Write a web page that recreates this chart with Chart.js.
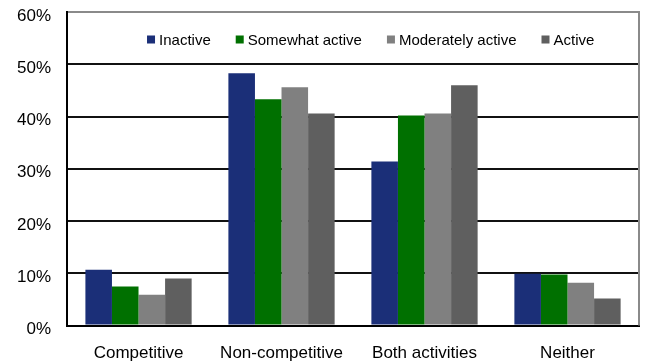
<!DOCTYPE html>
<html>
<head>
<meta charset="utf-8">
<script src="https://cdn.jsdelivr.net/npm/chart.js@4/dist/chart.umd.min.js"></script>
<style>
  html, body { margin: 0; padding: 0; background: #fff; }
  #wrap { width: 645px; height: 364px; }
</style>
</head>
<body>
<div id="wrap"><canvas id="c" width="645" height="364"></canvas></div>
<script>
// Share of respondents (%) by type of activity and physical activity level
const categories = ['Competitive', 'Non-competitive', 'Both activities', 'Neither'];
const inactive = [10.7, 48.3, 31.4, 9.9];
const somewhatActive = [7.5, 43.3, 40.2, 9.8];
const moderatelyActive = [5.9, 45.6, 40.6, 8.2];
const active = [9.0, 40.6, 46.0, 5.2];
const seriesNames = ['Inactive', 'Somewhat active', 'Moderately active', 'Active'];
const seriesColors = ['#1b2f78', '#007000', '#808080', '#5f5f5f'];
const yTicks = [0, 10, 20, 30, 40, 50, 60];

const FONT = "'Liberation Sans', Arial, sans-serif";

// Legend drawn inside the plot area, in one row
const innerLegend = {
  id: 'innerLegend',
  afterDraw(chart) {
    const ctx = chart.ctx;
    ctx.save();
    ctx.font = '15px ' + FONT;
    ctx.textBaseline = 'middle';
    let x = chart.chartArea.left + 80;
    const y = chart.chartArea.top + 28.5;
    chart.data.datasets.forEach(ds => {
      ctx.fillStyle = ds.backgroundColor;
      ctx.fillRect(x, y - 5, 8, 8);
      x += 12;
      ctx.fillStyle = '#000';
      ctx.fillText(ds.label, x, y);
      x += ctx.measureText(ds.label).width + 25;
    });
    ctx.restore();
  }
};

// Gray frame on the right edge of the plot area
const rightFrame = {
  id: 'rightFrame',
  afterDatasetsDraw(chart) {
    const { ctx, chartArea } = chart;
    ctx.save();
    ctx.strokeStyle = '#8a8a8a';
    ctx.lineWidth = 2;
    ctx.beginPath();
    ctx.moveTo(chartArea.right, chartArea.top - 1);
    ctx.lineTo(chartArea.right, chartArea.bottom);
    ctx.stroke();
    ctx.restore();
  }
};

// Tick padding is only the gap between axis and labels, not extra room outside
function trimPadding(scale) {
  const pad = scale.options.ticks.padding;
  if (scale.isHorizontal()) {
    scale.height -= pad;
  } else {
    scale.width -= pad;
  }
  scale.paddingTop = 0;
  scale.paddingBottom = 0;
  scale.paddingLeft = 0;
  scale.paddingRight = 0;
}

const values = [inactive, somewhatActive, moderatelyActive, active];

new Chart(document.getElementById('c'), {
  type: 'bar',
  data: {
    labels: categories,
    datasets: values.map((v, i) => ({
      label: seriesNames[i],
      data: v,
      backgroundColor: seriesColors[i],
      borderWidth: 0,
      categoryPercentage: 0.743,
      barPercentage: 1.0
    }))
  },
  options: {
    responsive: false,
    animation: false,
    devicePixelRatio: 1,
    layout: { padding: { left: 17, right: 6, top: 12, bottom: 0 } },
    plugins: {
      legend: { display: false },
      tooltip: { enabled: false }
    },
    scales: {
      x: {
        afterFit: trimPadding,
        grid: { display: false, drawTicks: false },
        border: { display: true, color: '#000', width: 2 },
        ticks: {
          color: '#000',
          font: { family: FONT, size: 17 },
          padding: 18,
          maxRotation: 0
        }
      },
      y: {
        min: 0,
        max: 60,
        afterFit: trimPadding,
        afterBuildTicks(axis) {
          axis.ticks = yTicks.map(v => ({ value: v }));
        },
        grid: {
          drawTicks: false,
          lineWidth: 2,
          color: ctx => (ctx.tick && ctx.tick.value === 60) ? '#8a8a8a' : '#111'
        },
        border: { display: true, color: '#000', width: 2 },
        ticks: {
          color: '#000',
          font: { family: FONT, size: 17 },
          padding: 16,
          labelOffset: 4,
          callback: v => v + '%'
        }
      }
    }
  },
  plugins: [innerLegend, rightFrame]
});
</script>
</body>
</html>
